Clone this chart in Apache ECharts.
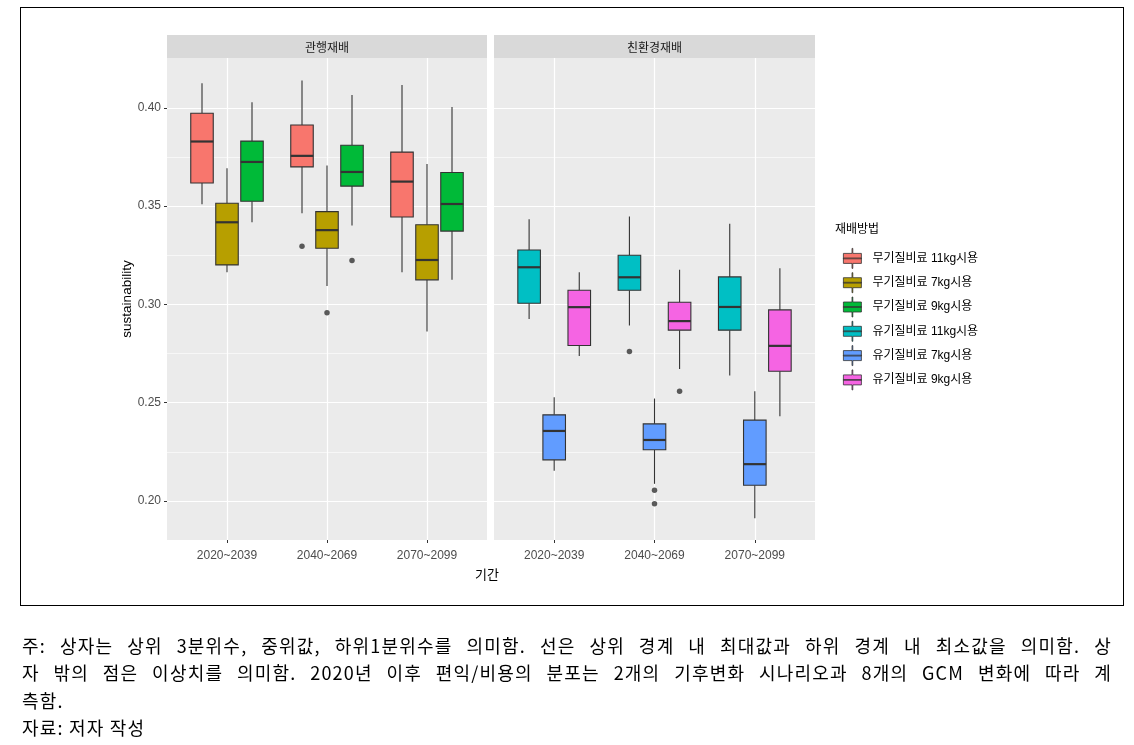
<!DOCTYPE html>
<html>
<head>
<meta charset="utf-8">
<script src="https://cdn.jsdelivr.net/npm/echarts@6/dist/echarts.min.js"></script>
<style>
  html, body { margin: 0; padding: 0; background: #fff; }
  #chart { position: absolute; left: 0; top: 0; width: 1134px; height: 745px; }
  .frame { position: absolute; left: 20px; top: 7px; width: 1104px; height: 599px; border: 1.7px solid #000; box-sizing: border-box; pointer-events: none; }
  .note { position: absolute; left: 22px; top: 632px; width: 1090px; font-family: "Noto Sans CJK KR", sans-serif; font-size: 18px; letter-spacing: 1.2px; line-height: 27.3px; color: #000; }
  .note .j { text-align: justify; text-align-last: justify; }
</style>
</head>
<body>
<div id="chart"></div>
<div class="frame"></div>
<div class="note">
  <div class="j">주: 상자는 상위 3분위수, 중위값, 하위1분위수를 의미함. 선은 상위 경계 내 최대값과 하위 경계 내 최소값을 의미함. 상</div>
  <div class="j">자 밖의 점은 이상치를 의미함. 2020년 이후 편익/비용의 분포는 2개의 기후변화 시나리오과 8개의 GCM 변화에 따라 계</div>
  <div>측함.</div>
  <div>자료: 저자 작성</div>
</div>
<script>
const periods = ['2020~2039', '2040~2069', '2070~2099']
const panels = ['관행재배', '친환경재배']
const methods = ['무기질비료 11kg시용', '무기질비료 7kg시용', '무기질비료 9kg시용', '유기질비료 11kg시용', '유기질비료 7kg시용', '유기질비료 9kg시용']
const colors = ['#F8766D', '#B79F00', '#00BA38', '#00BFC4', '#619CFF', '#F564E3']

// 기간별 [하위수염, Q1, 중위값, Q3, 상위수염]
const inorg11 = [[0.3510, 0.3618, 0.3829, 0.3973, 0.4126], [0.3464, 0.3700, 0.3756, 0.3913, 0.4139], [0.3164, 0.3445, 0.3625, 0.3775, 0.4117]]
const inorg7 = [[0.3164, 0.3201, 0.3418, 0.3515, 0.3693], [0.3094, 0.3286, 0.3378, 0.3472, 0.3707], [0.2862, 0.3125, 0.3226, 0.3405, 0.3714]]
const inorg9 = [[0.3418, 0.3525, 0.3725, 0.3831, 0.4029], [0.3401, 0.3602, 0.3674, 0.3810, 0.4066], [0.3125, 0.3373, 0.3511, 0.3671, 0.4005]]
const org11 = [[0.2926, 0.3006, 0.3189, 0.3277, 0.3434], [0.2893, 0.3072, 0.3138, 0.3250, 0.3447], [0.2638, 0.2869, 0.2987, 0.3140, 0.3410]]
const org7 = [[0.2153, 0.2209, 0.2356, 0.2438, 0.2528], [0.2087, 0.2260, 0.2310, 0.2392, 0.2521], [0.1912, 0.2080, 0.2187, 0.2411, 0.2558]]
const org9 = [[0.2738, 0.2791, 0.2986, 0.3072, 0.3164], [0.2671, 0.2869, 0.2915, 0.3011, 0.3176], [0.2431, 0.2660, 0.2789, 0.2972, 0.3184]]

// 이상치 (기간별)
const inorg11Out = [[], [0.3296], []]
const inorg7Out = [[], [0.2957], []]
const inorg9Out = [[], [0.3223], []]
const org11Out = [[], [0.2760], []]
const org7Out = [[], [0.2054, 0.1985], []]
const org9Out = [[], [0.2558], []]

const yTicks = [0.20, 0.25, 0.30, 0.35, 0.40]
const yMinor = [0.225, 0.275, 0.325, 0.375]
const yRange = [0.1801, 0.4254]

const boxes = [inorg11, inorg7, inorg9, org11, org7, org9]
const outs = [inorg11Out, inorg7Out, inorg9Out, org11Out, org7Out, org9Out]

const chart = echarts.init(document.getElementById('chart'))

const dodge = 0.25
const boxWidth = 0.225

function renderBox(params, api) {
  const x = api.value(0)
  const lo = api.coord([x, api.value(1)])
  const q1 = api.coord([x, api.value(2)])
  const md = api.coord([x, api.value(3)])
  const q3 = api.coord([x, api.value(4)])
  const hi = api.coord([x, api.value(5)])
  const w = api.size([boxWidth, 0])[0]
  const color = api.visual('color')
  const edge = '#333333'
  return {
    type: 'group',
    children: [
      { type: 'line', shape: { x1: hi[0], y1: hi[1], x2: q3[0], y2: q3[1] }, style: { stroke: edge, lineWidth: 1.1 } },
      { type: 'line', shape: { x1: q1[0], y1: q1[1], x2: lo[0], y2: lo[1] }, style: { stroke: edge, lineWidth: 1.1 } },
      { type: 'rect', shape: { x: q3[0] - w / 2, y: q3[1], width: w, height: q1[1] - q3[1] }, style: { fill: color, stroke: edge, lineWidth: 1.1 } },
      { type: 'line', shape: { x1: md[0] - w / 2, y1: md[1], x2: md[0] + w / 2, y2: md[1] }, style: { stroke: edge, lineWidth: 2.2 } }
    ]
  }
}

const series = []
methods.forEach(function(name, k) {
  const panel = k < 3 ? 0 : 1
  const slot = k % 3
  series.push({
    name: name,
    type: 'custom',
    xAxisIndex: panel,
    yAxisIndex: panel * 2,
    itemStyle: { color: colors[k] },
    renderItem: renderBox,
    encode: { x: 0, y: [1, 2, 3, 4, 5] },
    data: boxes[k].map(function(b, i) {
      return [i + 1 + (slot - 1) * dodge].concat(b)
    }),
    z: 3
  })
  const pts = []
  outs[k].forEach(function(list, i) {
    list.forEach(function(v) { pts.push([i + 1 + (slot - 1) * dodge, v]) })
  })
  if (pts.length) {
    series.push({
      name: name + ' 이상치',
      type: 'scatter',
      xAxisIndex: panel,
      yAxisIndex: panel * 2,
      symbolSize: 5.5,
      itemStyle: { color: '#333333' },
      data: pts,
      z: 4
    })
  }
})

function xAxisFor(idx) {
  return {
    type: 'value', gridIndex: idx, min: 0.4, max: 3.6,
    axisLine: { show: false },
    axisTick: { show: true, customValues: [1, 2, 3], length: 3, lineStyle: { color: '#333333', width: 1 } },
    axisLabel: {
      customValues: [1, 2, 3],
      formatter: function(v) { return periods[Math.round(v) - 1] },
      color: '#4D4D4D', fontSize: 12, margin: 10
    },
    splitLine: { show: true, lineStyle: { color: '#ffffff', width: 1.2 } }
  }
}

function yAxisFor(idx, labels) {
  const ax = {
    type: 'value', gridIndex: idx, min: yRange[0], max: yRange[1], position: 'left',
    axisLine: { show: false },
    axisTick: { show: labels, customValues: yTicks, length: 3, lineStyle: { color: '#333333', width: 1 } },
    axisLabel: {
      show: labels, customValues: yTicks,
      formatter: function(v) { return v.toFixed(2) },
      color: '#4D4D4D', fontSize: 12, margin: 6
    },
    splitLine: { show: true, lineStyle: { color: '#ffffff', width: 1.2 } }
  }
  if (labels) {
    ax.name = 'sustainability'
    ax.nameLocation = 'middle'
    ax.nameGap = 33
    ax.nameRotate = 90
    ax.nameTextStyle = { fontSize: 13.5, color: '#000' }
  }
  return ax
}

// 보조 격자선
function minorAxisFor(idx) {
  return {
    type: 'value', gridIndex: idx, min: yRange[0], max: yRange[1], position: 'left',
    axisLine: { show: false },
    axisTick: { show: false, customValues: yMinor },
    axisLabel: { show: false, customValues: yMinor },
    splitLine: { show: true, lineStyle: { color: '#ffffff', width: 0.6 } }
  }
}

const option = {
  animation: false,
  backgroundColor: '#ffffff',
  textStyle: { fontFamily: '"Liberation Sans", Arial, "Noto Sans CJK KR", sans-serif' },
  grid: [
    { left: 167, top: 58, width: 320, height: 482, show: true, backgroundColor: '#EBEBEB', borderWidth: 0 },
    { left: 494, top: 58, width: 321, height: 482, show: true, backgroundColor: '#EBEBEB', borderWidth: 0 }
  ],
  xAxis: [xAxisFor(0), xAxisFor(1)],
  yAxis: [yAxisFor(0, true), minorAxisFor(0), yAxisFor(1, false), minorAxisFor(1)],
  legend: {
    data: methods,
    orient: 'vertical',
    left: 838, top: 243,
    itemWidth: 22, itemHeight: 20, itemGap: 3.5,
    selectedMode: false,
    icon: 'path://M8.6,0H9.4V5H18V15H9.4V20H8.6V15H0V5H8.6Z M0,9.6H18V10.4H0Z',
    itemStyle: { borderColor: '#333333', borderWidth: 0.8 },
    textStyle: { fontSize: 12, color: '#000', padding: [0, 0, 0, 4] }
  },
  graphic: [
    { type: 'rect', left: 167, top: 35, shape: { width: 320, height: 23 }, style: { fill: '#D9D9D9' } },
    { type: 'rect', left: 494, top: 35, shape: { width: 321, height: 23 }, style: { fill: '#D9D9D9' } },
    { type: 'text', x: 327, y: 47, style: { text: panels[0], fill: '#1A1A1A', font: '12px "Noto Sans CJK KR", sans-serif', textAlign: 'center', textVerticalAlign: 'middle' } },
    { type: 'text', x: 654.5, y: 47, style: { text: panels[1], fill: '#1A1A1A', font: '12px "Noto Sans CJK KR", sans-serif', textAlign: 'center', textVerticalAlign: 'middle' } },
    { type: 'text', x: 487, y: 574, style: { text: '기간', fill: '#000', font: '13px "Noto Sans CJK KR", sans-serif', textAlign: 'center', textVerticalAlign: 'middle' } },
    { type: 'text', x: 835, y: 228, style: { text: '재배방법', fill: '#000', font: '12px "Noto Sans CJK KR", sans-serif', textAlign: 'left', textVerticalAlign: 'middle' } }
  ],
  series: series
}
chart.setOption(option, true)
</script>
</body>
</html>
